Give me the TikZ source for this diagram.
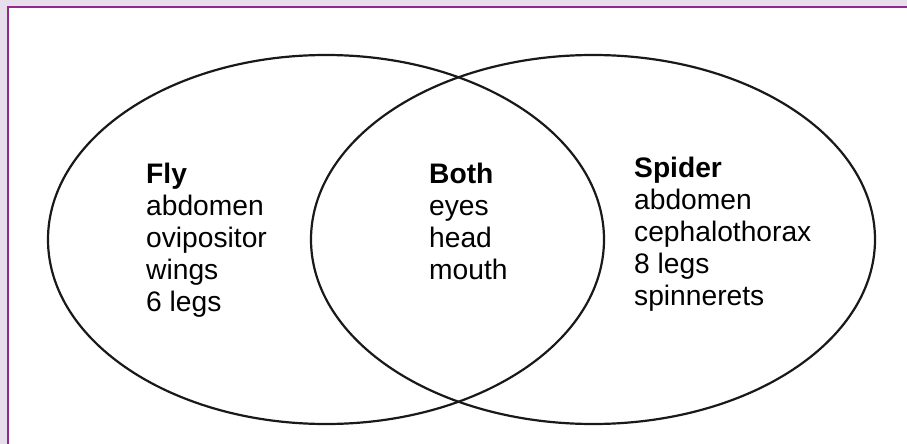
\documentclass[tikz,border=0pt]{standalone}
\usepackage{fontspec}
\setmainfont{Liberation Sans}
\usepackage{tikz}
\usetikzlibrary{shapes.geometric, positioning}

\definecolor{frameviolet}{HTML}{8E2A8E}
\definecolor{pagelilac}{HTML}{E7E0EC}

\begin{document}
\begin{tikzpicture}[
    x=1pt, y=-1pt,
    set/.style={ellipse, draw=black!90, line width=2.2pt, inner sep=0pt},
    items/.style={anchor=north west, inner sep=0pt, align=left, font=\fontsize{28.2pt}{32pt}\selectfont}
]
\useasboundingbox (0,0) rectangle (907,444);

% Page
\fill[pagelilac] (0,0) rectangle (907,444);
\fill[white] (8,7) rectangle (907,444);
\draw[frameviolet, line width=2pt] (8,444) -- (8,7) -- (907,7);

% Sets
\node[set, minimum width=556pt, minimum height=369pt] (fly) at (326,239.5) {};
\node[set, minimum width=564pt, minimum height=369pt] (spider) at (593,239.5) {};

% Labels
\node[items] (flyitems) at (146,163) {\textbf{Fly}\\abdomen\\ovipositor\\wings\\6 legs};
\node[items] (bothitems) at (429,163) {\textbf{Both}\\eyes\\head\\mouth};
\node[items] (spideritems) at (634,157) {\textbf{Spider}\\abdomen\\cephalothorax\\8 legs\\spinnerets};

\end{tikzpicture}
\end{document}
